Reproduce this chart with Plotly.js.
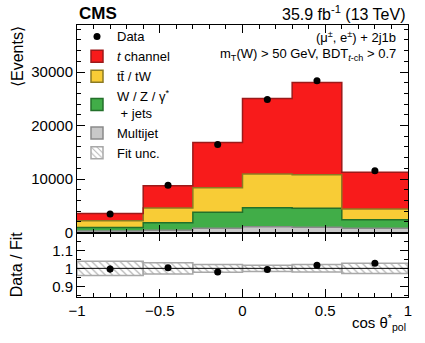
<!DOCTYPE html>
<html>
<head>
<meta charset="utf-8">
<script src="https://cdn.plot.ly/plotly-3.0.1.min.js"></script>
<style>
  body { margin: 0; background: #fff; }
  #plot { width: 425px; height: 343px; }
</style>
</head>
<body>
<div id="plot"></div>
<script>
// bin edges in cos theta*_pol
var edges = [-1, -0.6, -0.3, 0, 0.3, 0.6, 1];

// event yields per bin
var dataEvents = [3460, 8820, 16450, 24850, 28400, 11550];
var tChannel = [1350, 4150, 8470, 14150, 17270, 6850];
var ttbarTW = [1270, 2750, 4550, 6290, 6280, 2000];
var wzJets = [630, 1430, 3020, 3550, 3550, 1620];
var multijet = [300, 420, 780, 1090, 970, 780];

// ratio panel
var ratio = [0.996, 1.003, 0.979, 0.994, 1.017, 1.028];
var ratioErr = [0.02, 0.012, 0.009, 0.008, 0.007, 0.011];
var fitUnc = [0.04, 0.031, 0.022, 0.018, 0.021, 0.029];

var centers = [], widths = [];
for (var i = 0; i < edges.length - 1; i++) {
  centers.push((edges[i] + edges[i + 1]) / 2);
  widths.push(edges[i + 1] - edges[i]);
}

// repeat the last bin so the hv step reaches the right edge
function step(vals) {
  return vals.concat([vals[vals.length - 1]]);
}

var font = "Liberation Sans, Arial, Helvetica, sans-serif";

var comps = [
  {name: "Multijet", vals: multijet, fill: "#c8c8c8", line: "#8a8a8a", rank: 5},
  {name: "W / Z / γ<sup>*</sup><br> + jets", vals: wzJets, fill: "#41ad48", line: "#23702a", rank: 4},
  {name: "tt̄ / tW", vals: ttbarTW, fill: "#f8cc36", line: "#8c7a22", rank: 3},
  {name: "<i>t</i> channel", vals: tChannel, fill: "#f81b1b", line: "#9c1a1a", rank: 2}
];

var traces = [];

// stacked histogram as filled steps
comps.forEach(function (c) {
  traces.push({
    x: edges,
    y: step(c.vals),
    type: "scatter",
    mode: "lines",
    stackgroup: "stack",
    line: {shape: "hv", color: c.line, width: 1.5},
    fillcolor: c.fill,
    showlegend: false,
    hoverinfo: "skip",
    xaxis: "x",
    yaxis: "y"
  });
});

// legend swatches (one bar parked outside the x range)
comps.forEach(function (c) {
  traces.push({
    x: [3], y: [1000],
    type: "bar",
    name: c.name,
    legendrank: c.rank,
    marker: {color: c.fill, line: {color: c.line, width: 1.5}},
    hoverinfo: "skip",
    xaxis: "x",
    yaxis: "y"
  });
});

// fit uncertainty band in the ratio panel
var uncBase = fitUnc.map(function (u) { return 1 - u; });
var uncHeight = fitUnc.map(function (u) { return 2 * u; });
traces.push({
  x: centers,
  y: uncHeight,
  base: uncBase,
  width: widths,
  type: "bar",
  name: "Fit unc.",
  legendrank: 6,
  marker: {
    color: "rgba(255,255,255,0)",
    line: {color: "#a8a8a8", width: 1.5},
    pattern: {shape: "\\", fgcolor: "#b4b4b4", bgcolor: "rgba(255,255,255,0)", size: 5, solidity: 0.25}
  },
  hoverinfo: "skip",
  xaxis: "x2",
  yaxis: "y2"
});

// data points
traces.push({
  x: centers,
  y: dataEvents,
  type: "scatter",
  mode: "markers",
  name: "Data",
  legendrank: 1,
  marker: {color: "black", size: 7},
  xaxis: "x",
  yaxis: "y"
});

traces.push({
  x: centers,
  y: ratio,
  type: "scatter",
  mode: "markers",
  showlegend: false,
  marker: {color: "black", size: 7},
  error_y: {type: "data", array: ratioErr, color: "black", thickness: 1.2, width: 0},
  xaxis: "x2",
  yaxis: "y2"
});

var axisCommon = {
  showline: true,
  linecolor: "black",
  linewidth: 1,
  mirror: "ticks",
  ticks: "inside",
  ticklen: 8,
  tickcolor: "black",
  showgrid: false,
  zeroline: false,
  tickfont: {family: font, size: 15, color: "black"}
};

var layout = {
  width: 425,
  height: 343,
  margin: {l: 77, r: 17, t: 25, b: 46},
  paper_bgcolor: "white",
  plot_bgcolor: "white",
  barmode: "overlay",
  font: {family: font, color: "black"},
  showlegend: true,
  legend: {
    x: 0.0, y: 1.013, xanchor: "left", yanchor: "top",
    bgcolor: "rgba(0,0,0,0)",
    font: {family: font, size: 13, color: "black"},
    traceorder: "normal"
  },
  xaxis: Object.assign({}, axisCommon, {
    domain: [0, 1], anchor: "y", range: [-1, 1], dtick: 0.5,
    showticklabels: false,
    minor: {dtick: 0.1, ticks: "inside", ticklen: 4, tickcolor: "black", showgrid: false}
  }),
  yaxis: Object.assign({}, axisCommon, {
    domain: [0.237, 1], anchor: "x", range: [0, 38800], dtick: 10000,
    tickformat: "d",
    minor: {dtick: 2000, ticks: "inside", ticklen: 4, tickcolor: "black", showgrid: false}
  }),
  xaxis2: Object.assign({}, axisCommon, {
    domain: [0, 1], anchor: "y2", range: [-1, 1], dtick: 0.5,
    minor: {dtick: 0.1, ticks: "inside", ticklen: 4, tickcolor: "black", showgrid: false}
  }),
  yaxis2: Object.assign({}, axisCommon, {
    domain: [0, 0.237], anchor: "x2", range: [0.84, 1.2],
    tickmode: "array", tickvals: [0.9, 1, 1.1],
    minor: {tick0: 0.9, dtick: 0.05, ticks: "inside", ticklen: 4, tickcolor: "black", showgrid: false}
  }),
  shapes: [
    {type: "line", xref: "x2", yref: "y2", x0: -1, x1: 1, y0: 1, y1: 1,
     line: {color: "black", width: 1}}
  ],
  annotations: [
    {text: "<b>CMS</b>", xref: "paper", yref: "paper", x: 0, y: 1, xanchor: "left", yanchor: "bottom",
     showarrow: false, font: {family: font, size: 17}},
    {text: "35.9 fb<sup>-1</sup> (13 TeV)", xref: "paper", yref: "paper", x: 1, y: 1,
     xanchor: "right", yanchor: "bottom", showarrow: false, font: {family: font, size: 16}},
    {text: "(μ<sup>±</sup>, e<sup>±</sup>) + 2j1b", xref: "paper", yref: "paper", x: 0.97, y: 0.955,
     xanchor: "right", yanchor: "middle", showarrow: false, font: {family: font, size: 13}},
    {text: "m<sub>T</sub>(W) > 50 GeV, BDT<sub><i>t</i>-ch</sub> > 0.7", xref: "paper", yref: "paper",
     x: 0.97, y: 0.89, xanchor: "right", yanchor: "middle", showarrow: false, font: {family: font, size: 13}},
    {text: "⟨Events⟩", xref: "paper", yref: "paper", x: -0.15, y: 1.005, xanchor: "right", yanchor: "top",
     textangle: -90, showarrow: false, font: {family: font, size: 16}},
    {text: "Data / Fit", xref: "paper", yref: "paper", x: -0.15, y: 0.12, xanchor: "right", yanchor: "middle",
     textangle: -90, showarrow: false, font: {family: font, size: 16}},
    {text: "cos θ<sup>*</sup><sub>pol</sub>", xref: "paper", yref: "paper", x: 1, y: -0.095,
     xanchor: "right", yanchor: "middle", showarrow: false, font: {family: font, size: 15}}
  ]
};

Plotly.newPlot("plot", traces, layout, {displayModeBar: false, staticPlot: true});
</script>
</body>
</html>
